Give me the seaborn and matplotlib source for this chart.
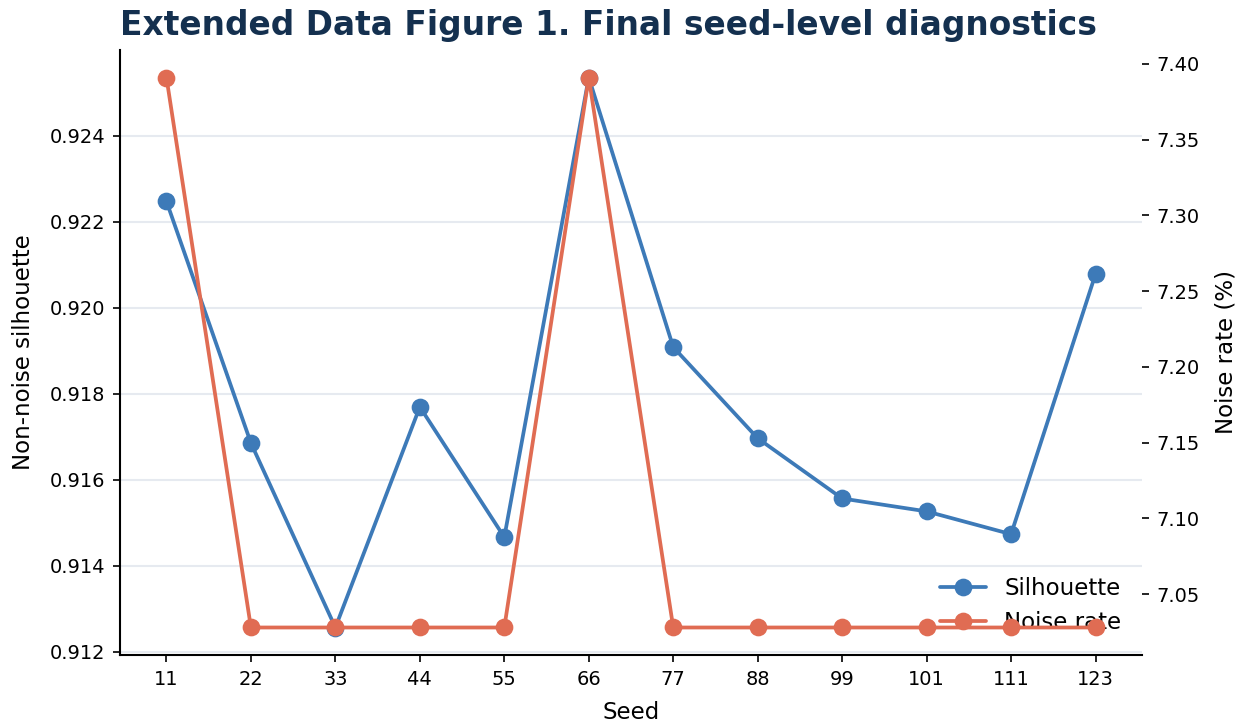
import matplotlib

matplotlib.use("Agg")
import matplotlib.pyplot as plt
import pandas as pd
import seaborn as sns

seeds = ["11", "22", "33", "44", "55", "66", "77", "88", "99", "101", "111", "123"]
silhouette = [0.92247, 0.91685, 0.91256, 0.91769, 0.91466, 0.92535,
              0.91908, 0.91696, 0.91556, 0.91526, 0.91473, 0.92078]
noise_rate = [7.391, 7.028, 7.028, 7.028, 7.028, 7.391,
              7.028, 7.028, 7.028, 7.028, 7.028, 7.028]

BLUE = "#3d7ab8"
ORANGE = "#e06c53"
NAVY = "#14304f"


def main() -> None:
    df = pd.DataFrame({"seed": seeds, "silhouette": silhouette, "noise": noise_rate})

    sns.set_theme(style="ticks", rc={
        "text.color": "black", "axes.labelcolor": "black", "axes.edgecolor": "black",
        "xtick.color": "black", "ytick.color": "black",
        "xtick.major.size": 3.5, "ytick.major.size": 3.5,
        "xtick.major.width": 0.8, "ytick.major.width": 0.8,
        "axes.linewidth": 1.0,
    })
    plt.rcParams["font.family"] = ["DejaVu Sans"]

    fig, ax = plt.subplots(figsize=(1246 / 150, 728 / 150), dpi=150)
    fig.subplots_adjust(left=120 / 1246, right=1142 / 1246, top=1 - 50 / 728, bottom=1 - 655 / 728)

    sns.lineplot(data=df, x="seed", y="silhouette", ax=ax, color=BLUE, marker="o",
                 markersize=8.5, markeredgewidth=0, linewidth=1.8, sort=False, label="Silhouette")
    ax2 = ax.twinx()
    sns.lineplot(data=df, x="seed", y="noise", ax=ax2, color=ORANGE, marker="o",
                 markersize=8.5, markeredgewidth=0, linewidth=1.8, sort=False, label="Noise rate")

    ax.set_xlabel("Seed", fontsize=11, labelpad=6)
    ax.set_ylabel("Non-noise silhouette", fontsize=11, labelpad=7)
    ax2.set_ylabel("Noise rate (%)", fontsize=11, labelpad=7)
    ax.yaxis.set_major_formatter(matplotlib.ticker.FormatStrFormatter("%.3f"))
    ax2.yaxis.set_major_formatter(matplotlib.ticker.FormatStrFormatter("%.2f"))
    ax.tick_params(labelsize=9.3)
    ax2.tick_params(labelsize=9.3)

    ax.grid(axis="y", color="#e6eaf0", linewidth=1)
    ax.set_axisbelow(True)
    for a in (ax, ax2):
        a.spines["top"].set_visible(False)
        a.spines["right"].set_visible(False)
    ax2.spines["left"].set_visible(False)
    ax2.spines["bottom"].set_visible(False)

    h1, l1 = ax.get_legend_handles_labels()
    h2, l2 = ax2.get_legend_handles_labels()
    ax2.get_legend().remove()
    ax.legend(h1 + h2, l1 + l2, loc="lower right", frameon=False, fontsize=11)

    ax.set_title("Extended Data Figure 1. Final seed-level diagnostics", loc="left",
                 fontsize=15.75, fontweight="bold", color=NAVY, pad=7)

    fig.savefig("out.png", dpi=150)
    plt.close("all")


if __name__ == "__main__":
    main()
